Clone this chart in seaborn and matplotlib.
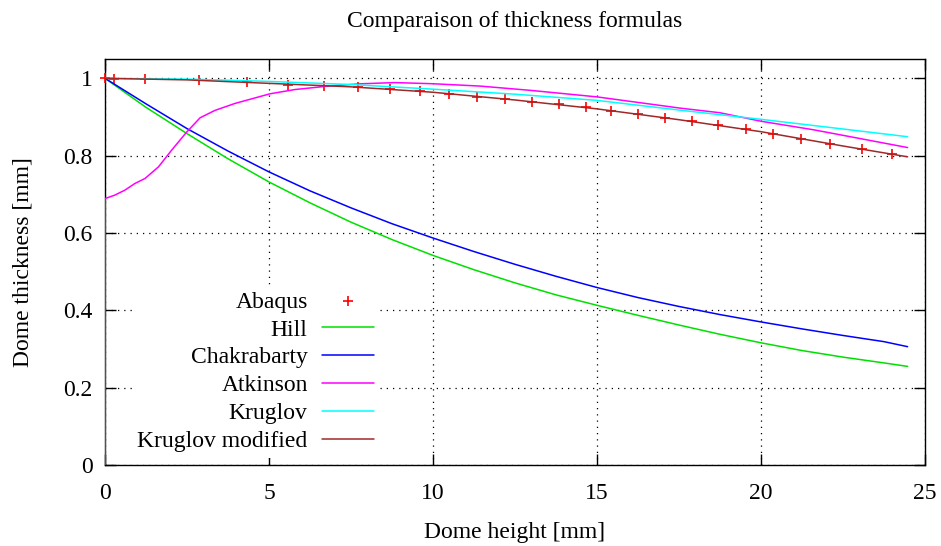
import numpy as np
import pandas as pd
import matplotlib
matplotlib.use("Agg")
import matplotlib.pyplot as plt
import seaborn as sns

# ---------------- data ----------------
abaqus_x = [0.0, 0.28, 1.22, 2.88, 4.32, 5.57, 6.69, 7.72, 8.69, 9.6, 10.49, 11.35,
            12.2, 13.03, 13.85, 14.65, 15.44, 16.25, 17.06, 17.89, 18.7, 19.53,
            20.38, 21.22, 22.1, 23.07, 24.0]
abaqus_y = [1.0, 0.999, 0.998, 0.995, 0.990, 0.984, 0.980, 0.977, 0.973, 0.967, 0.960,
            0.953, 0.947, 0.940, 0.933, 0.925, 0.916, 0.908, 0.898, 0.889, 0.879,
            0.868, 0.857, 0.844, 0.831, 0.817, 0.804]

hill_x = [0, 1.25, 2.5, 3.75, 5, 6.25, 7.5, 8.75, 10, 11.25, 12.5, 13.75, 15, 16.25,
          17.5, 18.75, 20, 21.25, 22.5, 23.75, 24.47]
hill_y = [1.0, 0.925, 0.857, 0.792, 0.732, 0.678, 0.628, 0.583, 0.542, 0.505, 0.471,
          0.440, 0.413, 0.387, 0.362, 0.338, 0.316, 0.296, 0.279, 0.264, 0.255]

chak_x = [0, 1.25, 2.5, 3.75, 5, 6.25, 7.5, 8.75, 10, 11.25, 12.5, 13.75, 15, 16.25,
          17.5, 18.75, 20, 21.25, 22.5, 23.75, 24.47]
chak_y = [1.0, 0.934, 0.870, 0.812, 0.758, 0.709, 0.665, 0.624, 0.587, 0.552, 0.519,
          0.488, 0.459, 0.433, 0.410, 0.389, 0.370, 0.352, 0.335, 0.319, 0.306]

atk_x = [0, 0, 0.3, 0.61, 0.91, 1.22, 1.63, 2.03, 2.49, 2.9, 3.35, 3.96, 5.03, 5.79,
         6.81, 7.83, 8.84, 10.0, 11.43, 12.96, 15.0, 17.53, 18.75, 20.0, 21.6, 24.47]
atk_y = [0.0, 0.689, 0.698, 0.711, 0.728, 0.741, 0.771, 0.814, 0.861, 0.898, 0.917,
         0.935, 0.960, 0.971, 0.980, 0.986, 0.989, 0.986, 0.980, 0.969, 0.952, 0.923,
         0.911, 0.889, 0.867, 0.821]

krug_x = [0, 2.5, 5, 7.5, 10, 12.5, 15, 17.5, 20, 22.5, 24.47]
krug_y = [1.0, 0.998, 0.992, 0.984, 0.972, 0.959, 0.943, 0.918, 0.894, 0.869, 0.849]

krugm_x = [0, 2.5, 5, 7.5, 10, 12.5, 15, 17.5, 20, 22.5, 24.47]
krugm_y = [1.0, 0.996, 0.987, 0.978, 0.964, 0.944, 0.921, 0.893, 0.862, 0.825, 0.797]

x_ticks = [0, 5, 10, 15, 20, 25]
y_ticks = [0, 0.2, 0.4, 0.6, 0.8, 1.0]
y_tick_labels = ["0", "0.2", "0.4", "0.6", "0.8", "1"]

# ---------------- style ----------------
sns.set_style("ticks")
plt.rcParams["font.family"] = ["Liberation Serif", "DejaVu Serif"]
plt.rcParams["font.size"] = 17
plt.rcParams["text.color"] = "black"
plt.rcParams["axes.labelcolor"] = "black"

fig = plt.figure(figsize=(9.41, 5.46), dpi=100)
ax = fig.add_axes([105 / 941, 1 - 465 / 546, 820 / 941, 406 / 546])

lw = 1.1
common = dict(lw=lw, ax=ax, sort=False, estimator=None, zorder=4)
sns.scatterplot(x=abaqus_x, y=abaqus_y, marker="+", s=60, color="#ff0000",
                linewidth=1.2, ax=ax, label="Abaqus", zorder=3, clip_on=False)
sns.lineplot(x=hill_x, y=hill_y, color="#00e000", label="Hill", **common)
sns.lineplot(x=chak_x, y=chak_y, color="#0000ff", label="Chakrabarty", **common)
sns.lineplot(x=atk_x, y=atk_y, color="#ff00ff", label="Atkinson", **common)
sns.lineplot(x=krug_x, y=krug_y, color="#00ffff", label="Kruglov", **common)
sns.lineplot(x=krugm_x, y=krugm_y, color="#a02828", label="Kruglov modified", **common)

ax.set_xlim(0, 25)
ax.set_ylim(0, 1.05)
ax.set_xticks(x_ticks)
ax.set_yticks(y_ticks)
ax.set_yticklabels(y_tick_labels)
ax.grid(True, color="black", linestyle=(0, (1, 4)), linewidth=0.9)
ax.set_axisbelow(True)
for s in ax.spines.values():
    s.set_visible(True)
    s.set_color("black")
    s.set_linewidth(1.0)
ax.tick_params(direction="in", length=8, width=1, top=True, right=True,
               labelsize=17, colors="black")
ax.tick_params(axis="x", pad=13)
ax.tick_params(axis="y", pad=9)

ax.set_title("Comparaison of thickness formulas", fontsize=17, pad=23, color="black")
ax.set_xlabel("Dome height [mm]", fontsize=17, labelpad=13, color="black")
ax.set_ylabel("Dome thickness [mm]", fontsize=17, labelpad=21, color="black")

leg = ax.legend(loc="lower right", bbox_to_anchor=(0.335, 0.017), markerfirst=False,
                frameon=True, fancybox=False, edgecolor="none", facecolor="white",
                framealpha=1.0, borderpad=0.25, borderaxespad=0.0,
                handlelength=2.2, handletextpad=0.6, labelspacing=0.27,
                fontsize=17)
for t in leg.get_texts():
    t.set_color("black")
leg.set_zorder(5)

fig.savefig("out.png", dpi=100)
